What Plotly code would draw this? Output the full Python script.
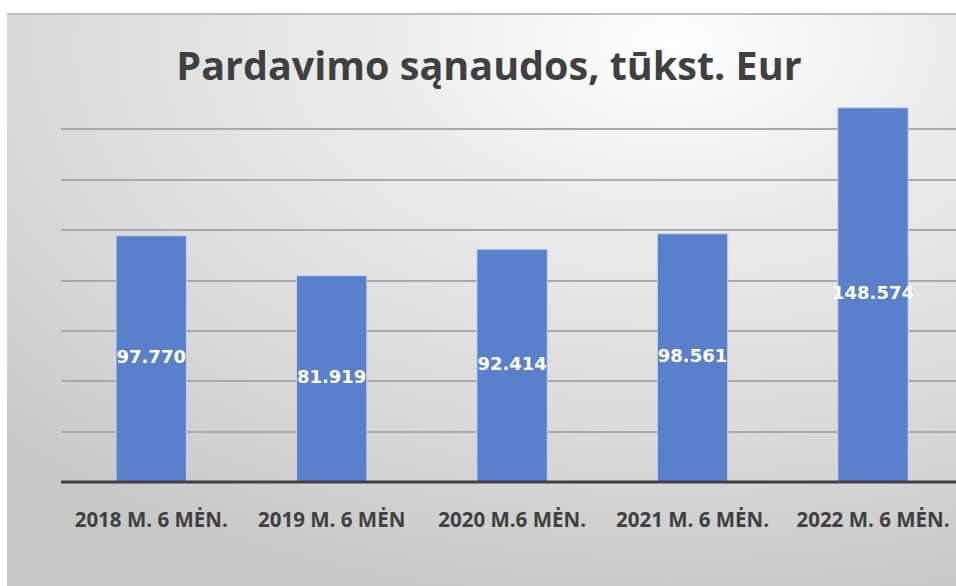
import base64
import plotly.graph_objects as go

categories = ["2018 M. 6 MĖN.", "2019 M. 6 MĖN", "2020 M.6 MĖN.", "2021 M. 6 MĖN.", "2022 M. 6 MĖN."]
values = [97770, 81919, 92414, 98561, 148574]
value_labels = ["97.770", "81.919", "92.414", "98.561", "148.574"]
title_text = "Pardavimo sąnaudos, tūkst. Eur"

W, H = 956, 586
L, R, T, B = 61, 0, 79, 104
plot_w = W - L - R
plot_h = H - T - B

svg = """<svg xmlns='http://www.w3.org/2000/svg' width='949' height='572' preserveAspectRatio='none' viewBox='0 0 949 572'>
<defs><radialGradient id='g' cx='0.70' cy='0.05' r='1.0' gradientUnits='objectBoundingBox'>
<stop offset='0' stop-color='#ffffff'/>
<stop offset='0.3' stop-color='#ececec'/>
<stop offset='0.7' stop-color='#d9d9d9'/>
<stop offset='1' stop-color='#c8c8c8'/>
</radialGradient></defs>
<rect x='0' y='0' width='949' height='572' fill='url(#g)'/>
</svg>"""
src = "data:image/svg+xml;base64," + base64.b64encode(svg.encode()).decode()

cont_left = 7
cont_top = 14
cx0 = (cont_left - L) / plot_w
cy_top = (H - B - cont_top) / plot_h

fig = go.Figure()
fig.add_trace(go.Bar(
    x=categories, y=values,
    marker=dict(color="#5b80cb", line=dict(color="#c6d3ee", width=1)),
    width=0.39, hoverinfo="skip",
))
fig.add_trace(go.Scatter(
    x=categories, y=[v / 2 for v in values], text=value_labels, mode="text",
    textposition="middle center",
    textfont=dict(family="DejaVu Sans", size=18, color="white", weight="bold"),
    cliponaxis=False, hoverinfo="skip",
))

fig.update_layout(
    width=W, height=H,
    margin=dict(l=L, r=R, t=T, b=B, pad=0),
    paper_bgcolor="white", plot_bgcolor="rgba(0,0,0,0)",
    showlegend=False,
    title=dict(text=title_text, x=489 / W, xanchor="center", xref="container",
               y=1 - 66 / H, yanchor="middle", yref="container",
               font=dict(family="Open Sans", size=39.5, color="#404040", weight="bold")),
    xaxis=dict(range=[-0.5, 4.46], showgrid=False, zeroline=False,
               showline=False, ticks="", ticklabelstandoff=23,
               tickfont=dict(family="Open Sans", size=20.5, color="#404040", weight="bold")),
    yaxis=dict(range=[0, 160000], dtick=20000, showgrid=True, gridcolor="#a9a9a9", gridwidth=1.5,
               showticklabels=False, zeroline=False, showline=False, ticks=""),
    images=[dict(source=src, xref="paper", yref="paper", x=cx0, y=cy_top,
                 sizex=(W - cont_left) / plot_w, sizey=(H - cont_top) / plot_h,
                 sizing="stretch", xanchor="left", yanchor="top", layer="below")],
    shapes=[
        dict(type="line", xref="paper", yref="paper", x0=0, x1=1, y0=0, y1=0,
             line=dict(color="#404040", width=3), layer="above"),
        dict(type="line", xref="paper", yref="paper", x0=cx0, x1=1, y0=cy_top, y1=cy_top,
             line=dict(color="#bdbdbd", width=2), layer="above"),
    ],
)
fig.write_html("out.html", config={"displayModeBar": False},
               post_script="document.body.style.margin='0';")
